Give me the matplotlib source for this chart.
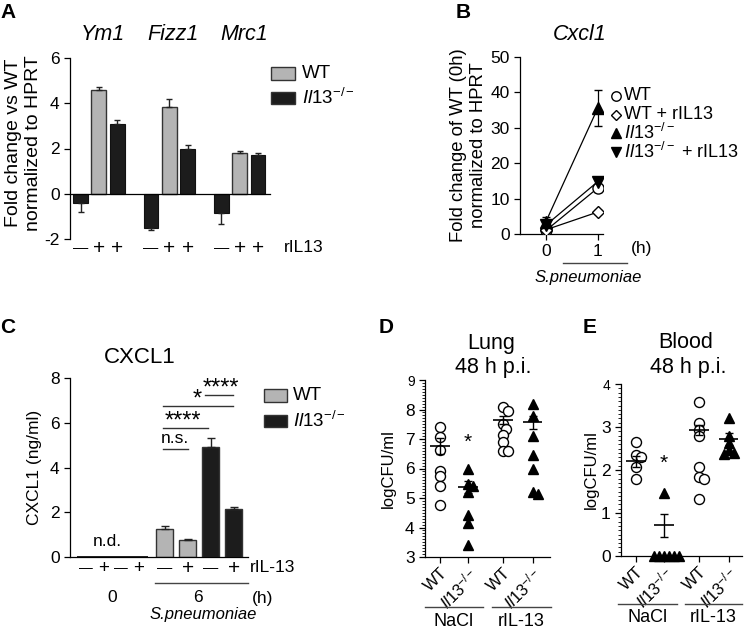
import numpy as np
import matplotlib
matplotlib.use('Agg')
import matplotlib.pyplot as plt
from matplotlib.lines import Line2D
from matplotlib.patches import Rectangle
from matplotlib.ticker import MultipleLocator

plt.rcParams['font.family'] = ['Liberation Sans', 'DejaVu Sans']
plt.rcParams['mathtext.fontset'] = 'custom'
plt.rcParams['mathtext.rm'] = 'Liberation Sans'
plt.rcParams['mathtext.it'] = 'Liberation Sans:italic'
plt.rcParams['axes.unicode_minus'] = False
plt.rcParams['axes.linewidth'] = 0.9

W, H = 746, 633
GRAY = '#b4b4b4'
BLACK = '#1c1c1c'
IL13 = r'$\mathit{Il13}^{-/-}$'

# --- A: M2 genes, fold change vs WT
genes = ['Ym1', 'Fizz1', 'Mrc1']
a_ko_ctrl = [-0.4, -1.5, -0.85]
a_ko_ctrl_err = [0.4, 0.1, 0.48]
a_wt_il13 = [4.6, 3.85, 1.8]
a_wt_il13_err = [0.12, 0.35, 0.1]
a_ko_il13 = [3.1, 2.0, 1.7]
a_ko_il13_err = [0.18, 0.15, 0.12]

# --- B: Cxcl1 time course
b_times = [0, 1]
b_wt = [1.0, 13.0]
b_wt_err = [0.3, 1.2]
b_wt_r = [1.2, 6.2]
b_wt_r_err = [0.3, 0.5]
b_ko = [3.5, 35.6]
b_ko_err = [1.2, 5.0]
b_ko_r = [2.5, 14.8]
b_ko_r_err = [1.5, 1.2]

# --- C: CXCL1 protein
c_signs = ['—', '+', '—', '+']
c_0h = [0, 0, 0, 0]
c_6h = [1.25, 0.78, 4.9, 2.15]
c_6h_err = [0.15, 0.04, 0.4, 0.1]

# --- D: lung CFU
d_wt_nacl = [7.4, 7.07, 6.62, 5.92, 5.73, 5.42, 4.77]
d_ko_nacl = [5.98, 5.47, 5.4, 5.2, 4.44, 4.15, 3.4]
d_wt_ril = [8.07, 7.96, 7.51, 7.35, 7.12, 6.9, 6.6, 6.58]
d_ko_ril = [8.2, 7.78, 7.1, 6.45, 5.98, 5.2, 5.15]
d_mean = [6.77, 5.38, 7.65, 7.56]
d_sem = [0.27, 0.2, 0.14, 0.22]

# --- E: blood CFU
e_wt_nacl = [2.66, 2.35, 2.3, 2.06, 1.78]
e_ko_nacl = [1.47, 0, 0, 0, 0, 0, 0]
e_wt_ril = [3.57, 3.1, 2.93, 2.79, 2.08, 1.84, 1.78, 1.32]
e_ko_ril = [3.2, 2.78, 2.63, 2.47, 2.37, 2.39]
e_mean = [2.2, 0.71, 2.93, 2.72]
e_sem = [0.12, 0.27, 0.12, 0.14]

fig = plt.figure(figsize=(W / 100, H / 100), dpi=100)


def add_ax(l, t, r, b):
    return fig.add_axes([l / W, 1 - b / H, (r - l) / W, (b - t) / H])


def ftext(x, y, s, **kw):
    kw.setdefault('ha', 'center')
    kw.setdefault('va', 'center')
    fig.text(x / W, 1 - y / H, s, **kw)


def fline(x0, x1, y, lw=1.0):
    fig.add_artist(Line2D([x0 / W, x1 / W], [1 - y / H, 1 - y / H], color='#444444', lw=lw))


def frect(x0, y0, x1, y1, color):
    fig.add_artist(Rectangle((x0 / W, 1 - y1 / H), (x1 - x0) / W, (y1 - y0) / H,
                             facecolor=color, edgecolor='#333333', lw=1.0))


def clean(ax):
    ax.spines['top'].set_visible(False)
    ax.spines['right'].set_visible(False)
    ax.tick_params(labelsize=12.5, direction='out', length=4, width=0.9)


def sign(ax, x, y, s, tr, big=1.0):
    # long dash for "minus", plain plus
    fs = 11 * big if s == '—' else 15 * big
    ax.text(x, y, s, transform=tr, ha='center', va='center', fontsize=fs)


def swarm(vals, ppu_y, ppu_x, min_px=5.0, step_px=2.5):
    vals = np.asarray(vals, float)
    offs = np.zeros(len(vals))
    placed = []
    cands = [0.0] + [s * j * step_px for j in range(1, 16) for s in (1, -1)]
    for i in np.argsort(-vals):
        y = vals[i] * ppu_y
        for c in cands:
            if all((c - px) ** 2 + (y - py) ** 2 >= min_px ** 2 for px, py in placed):
                break
        placed.append((c, y))
        offs[i] = c / ppu_x
    return offs


# panel letters
for lab, x, y in [('A', 8, 13), ('B', 463, 13), ('C', 8, 328), ('D', 386, 328), ('E', 590, 328)]:
    ftext(x, y, lab, fontsize=15, fontweight='bold')

# ================= A =================
ax = add_ax(70, 58, 270, 239)
g = np.arange(len(genes))
bw, off = 0.21, 0.26
z = np.zeros(len(genes))
ek = dict(ecolor='#222222', elinewidth=1.0, capsize=2.5, capthick=1.0)
ax.bar(g - off, a_ko_ctrl, bw, color=BLACK, edgecolor='#111111', lw=0.8,
       yerr=[a_ko_ctrl_err, z], error_kw=ek)
ax.bar(g, a_wt_il13, bw, color=GRAY, edgecolor='#333333', lw=1.0,
       yerr=[z, a_wt_il13_err], error_kw=ek)
ax.bar(g + off, a_ko_il13, bw, color=BLACK, edgecolor='#111111', lw=0.8,
       yerr=[z, a_ko_il13_err], error_kw=ek)
ax.set_ylim(-2, 6)
ax.set_xlim(-0.41, 2.43)
ax.set_yticks([-2, 0, 2, 4, 6])
clean(ax)
ax.spines['bottom'].set_position(('data', 0))
ax.tick_params(axis='x', length=0, labelbottom=False)
ax.set_ylabel('Fold change vs WT\nnormalized to HPRT', fontsize=14, linespacing=1.2)
ax.yaxis.set_label_coords(-0.14, 0.53)
tr = ax.get_xaxis_transform()
for i, gene in enumerate(genes):
    ax.text(g[i] + 0.06, 1.13, gene, transform=tr, ha='center', va='center',
            fontsize=15.5, style='italic')
    for k, s in enumerate(['—', '+', '+']):
        sign(ax, g[i] + (k - 1) * off, -0.05, s, tr)
ftext(284, 248, 'rIL13', fontsize=12.5, ha='left')
frect(271, 67, 295, 80, GRAY)
frect(271, 92, 295, 104, BLACK)
ftext(302, 73, 'WT', fontsize=13.5, ha='left')
ftext(302, 98, IL13, fontsize=13.5, ha='left')

# ================= B =================
ax = add_ax(520, 57, 603, 234)
series = [
    (b_wt, b_wt_err, 'o', 'white'),
    (b_wt_r, b_wt_r_err, 'D', 'white'),
    (b_ko_r, b_ko_r_err, 'v', 'black'),
    (b_ko, b_ko_err, '^', 'black'),
]
for vals, err, mk, fc in series:
    ms = 6 if mk == 'D' else 8
    ax.errorbar(b_times, vals, yerr=err, color='black', lw=0.9, capsize=3, capthick=0.9,
                marker=mk, ms=ms, mfc=fc, mec='black', mew=1.0, zorder=3)
ax.set_ylim(0, 50)
ax.set_xlim(-0.5, 1.1)
ax.set_yticks(range(0, 51, 10))
ax.set_xticks(b_times)
clean(ax)
ax.set_ylabel('Fold change of WT (0h)\nnormalized to HPRT', fontsize=13.3, linespacing=1.25)
ax.yaxis.set_label_coords(-0.40, 0.5)
ftext(580, 35, 'Cxcl1', fontsize=15.5, style='italic')
ftext(642, 249, '(h)', fontsize=12.5)
fline(563, 627, 263)
ftext(588, 278, 'S.pneumoniae', fontsize=12, style='italic')
leg = [('o', 'white', 'WT', 8), ('D', 'white', 'WT + rIL13', 6),
       ('^', 'black', IL13, 8), ('v', 'black', IL13 + ' + rIL13', 8)]
for j, (mk, fc, lab, ms) in enumerate(leg):
    y = 96 + j * 18.7
    fig.add_artist(Line2D([616 / W], [1 - y / H], marker=mk, ms=ms * 0.85, mfc=fc,
                          mec='black', mew=1.0, ls='none'))
    ftext(624, y, lab, fontsize=13, ha='left')

# ================= C =================
ax = add_ax(70, 378, 248, 557)
x6 = np.arange(4)
x0 = -3.45 + 0.77 * np.arange(4)
cols = [GRAY, GRAY, BLACK, BLACK]
ax.bar(x0, c_0h, 0.77, color=cols, edgecolor='#222222', lw=1.4)
ax.bar(x6, c_6h, 0.74, color=cols, edgecolor='#333333', lw=1.0,
       yerr=[np.zeros(4), c_6h_err], error_kw=dict(ecolor='#222222', elinewidth=1.0,
                                                    capsize=3, capthick=1.0))
ax.set_ylim(0, 8)
ax.set_xlim(-4.13, 3.61)
ax.set_yticks(range(0, 9, 2))
clean(ax)
ax.tick_params(axis='x', length=0, labelbottom=False)
ax.set_ylabel('CXCL1 (ng/ml)', fontsize=12.5)
ax.yaxis.set_label_coords(-0.16, 0.5)
tr = ax.get_xaxis_transform()
for xs, big in ((x0, 0.9), (x6, 1.0)):
    for xi, s in zip(xs, c_signs):
        sign(ax, xi, -0.062, s, tr, big)
ax.text(-2.52, 0.35, 'n.d.', ha='center', va='bottom', fontsize=12.5)
sig = [(-0.09, 1.0, 4.83, 'n.s.', 0.45, 12.5),
       (-0.09, 1.87, 5.77, '****', 0.8, 17),
       (-0.09, 2.96, 6.75, '*', 1.39, 17),
       (1.74, 2.96, 7.24, '****', 2.45, 17)]
for xa, xb, y, s, xt, fs in sig:
    ax.plot([xa, xb], [y, y], color='#333333', lw=1.0, clip_on=False)
    if s == 'n.s.':
        ax.text(xt, y + 0.12, s, ha='center', va='bottom', fontsize=fs)
    else:
        ax.text(xt, y - 0.2, s, ha='center', va='bottom', fontsize=fs, clip_on=False)
ftext(250, 568, 'rIL-13', fontsize=12.5, ha='left')
fline(155, 248, 583)
ftext(112, 598, '0', fontsize=12.5)
ftext(198, 598, '6', fontsize=12.5)
ftext(263, 598, '(h)', fontsize=12.5)
ftext(203, 615, 'S.pneumoniae', fontsize=12, style='italic')
ftext(140, 357, 'CXCL1', fontsize=16)
frect(264, 389, 287, 402, GRAY)
frect(264, 415, 287, 427, BLACK)
ftext(293, 395, 'WT', fontsize=13.5, ha='left')
ftext(293, 421, IL13, fontsize=13.5, ha='left')

# ================= D / E =================
pos = np.array([0, 1, 2.25, 3.3])


def cfu_panel(rect, groups, means, sems, ylim, ppu_y, star_y, title, title_x, lines, ylab_x):
    ax = add_ax(*rect)
    for k, vals in enumerate(groups):
        offs = swarm(vals, ppu_y, 28.0)
        if k % 2 == 0:
            ax.plot(pos[k] + offs, vals, 'o', ms=7.2, mfc='white', mec='black', mew=1.0,
                    ls='none', zorder=2, clip_on=False)
        else:
            ax.plot(pos[k] + offs, vals, '^', ms=7.2, mfc='black', mec='black',
                    ls='none', zorder=2, clip_on=False)
        ax.hlines(means[k], pos[k] - 0.35, pos[k] + 0.35, color='black', lw=1.2, zorder=4)
        ax.errorbar(pos[k], means[k], yerr=sems[k], color='black', lw=1.0, capsize=3,
                    capthick=1.0, zorder=4)
    ax.text(pos[1], star_y, '*', ha='center', va='center', fontsize=15)
    ax.set_ylim(*ylim)
    ax.set_xlim(-0.54, (rect[2] - rect[0]) / 28.0 - 0.54)
    ax.set_yticks(range(ylim[0], ylim[1] + 1))
    ax.yaxis.set_minor_locator(MultipleLocator(0.1))
    clean(ax)
    ax.tick_params(axis='y', which='minor', length=2, width=0.6)
    ax.set_xticks(pos)
    ax.set_xticklabels(['WT', IL13, 'WT', IL13], rotation=45, ha='right',
                       rotation_mode='anchor', fontsize=12)
    ax.tick_params(axis='x', length=4, pad=2)
    ax.get_yticklabels()[-1].set_fontsize(10)
    ax.set_ylabel('logCFU/ml', fontsize=12)
    ax.yaxis.set_label_coords(ylab_x, 0.5)
    ftext(title_x, 343, title, fontsize=15.5)
    ftext(title_x + 2, 367, '48 h p.i.', fontsize=15.5)
    for (xa, xb, y, lab) in lines:
        fline(xa, xb, y)
        ftext((xa + xb) / 2, y + 14, lab, fontsize=13)
    return ax


cfu_panel((425, 380, 550, 557), [d_wt_nacl, d_ko_nacl, d_wt_ril, d_ko_ril], d_mean, d_sem,
          (3, 9), 29.5, 6.9, 'Lung', 491,
          [(425, 483, 607, 'NaCl'), (492, 551, 607, 'rIL-13')], -0.23)
cfu_panel((621, 384, 742, 556), [e_wt_nacl, e_ko_nacl, e_wt_ril, e_ko_ril], e_mean, e_sem,
          (0, 4), 43.0, 2.15, 'Blood', 686,
          [(618, 677, 604, 'NaCl'), (685, 742, 604, 'rIL-13')], -0.18)

fig.savefig('out.png', dpi=100)
